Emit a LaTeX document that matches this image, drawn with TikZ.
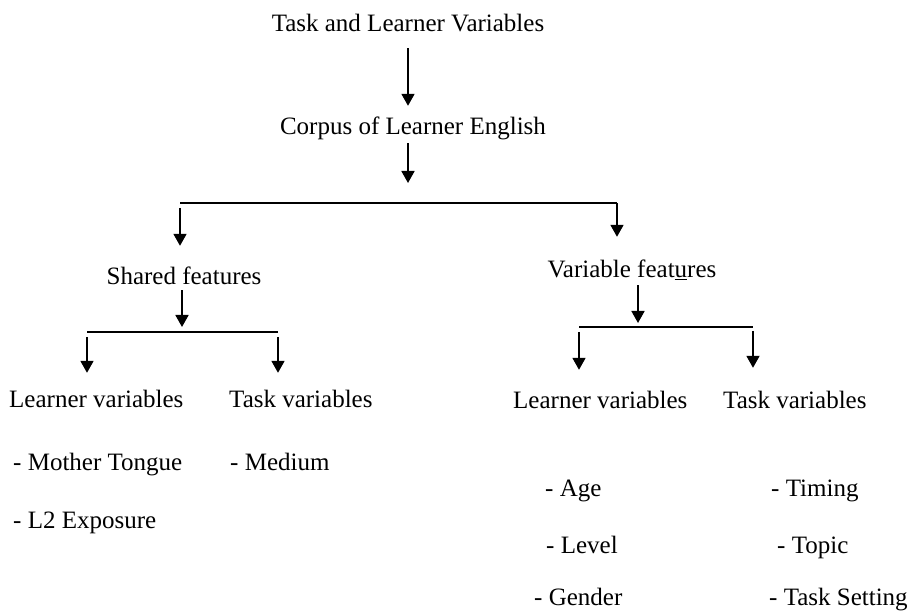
\documentclass[tikz,border=0pt]{standalone}
\usepackage{fontspec}
\setmainfont{Liberation Serif}
\usetikzlibrary{arrows.meta}

\tikzstyle{heading}=[inner sep=0pt,anchor=base,text height=17pt,text depth=5pt,font=\fontsize{25}{30}\selectfont]
\tikzstyle{entry}=[heading,anchor=base west]
\tikzstyle{arrowdown}=[line width=1.8pt,-{Triangle[width=13pt,length=12pt]}]
\tikzstyle{bar}=[line width=1.8pt]

\begin{document}
\begin{tikzpicture}[x=1pt,y=-1pt]
      \useasboundingbox (0,0) rectangle (911,612);
      % top of the tree
      \node [heading] (top) at (408,32) {Task and Learner Variables};
      \node [heading] (corpus) at (413,135) {Corpus of Learner English};
      \node [heading] (shared) at (184,285) {Shared features};
      \node [heading] (variable) at (632,278) {Variable feat\underline{u}res};
      % second level
      \node [entry] (slearner) at (9,408) {Learner variables};
      \node [entry] (stask) at (229,408) {Task variables};
      \node [entry] (vlearner) at (513,409) {Learner variables};
      \node [entry] (vtask) at (723,409) {Task variables};
      % lists
      \node [entry] (mother) at (13,470) {- Mother Tongue};
      \node [entry] (exposure) at (13,528) {- L2 Exposure};
      \node [entry] (medium) at (230,470) {- Medium};
      \node [entry] (age) at (545,496) {- Age};
      \node [entry] (level) at (546,553) {- Level};
      \node [entry] (gender) at (534,605) {- Gender};
      \node [entry] (timing) at (771,496) {- Timing};
      \node [entry] (topic) at (777,553) {- Topic};
      \node [entry] (setting) at (769,605) {- Task Setting};
      % bars
      \coordinate (cbarL) at (180,203);
      \coordinate (cbarR) at (617,203);
      \coordinate (cjoin) at (408,203);
      \coordinate (sbarL) at (87,332);
      \coordinate (sbarR) at (278,332);
      \coordinate (sjoin) at (182,332);
      \coordinate (vbarL) at (579,327);
      \coordinate (vbarR) at (753,327);
      \coordinate (vjoin) at (638,327);
      \draw [bar] (cbarL) -- (cbarR);
      \draw [bar] (sbarL) -- (sbarR);
      \draw [bar] (vbarL) -- (vbarR);
      % arrows
      \draw [arrowdown,shorten <=11pt,shorten >=12pt] (top.south) -- (top.south |- corpus.north);
      \draw [arrowdown,shorten <=3pt,shorten >=20pt] (corpus.south -| cjoin) -- (cjoin);
      \draw [arrowdown,shorten <=5pt,shorten >=22pt] (cbarL) -- (cbarL |- shared.north);
      \draw [arrowdown,shorten >=24pt] (cbarR) -- (cbarR |- variable.north);
      \draw [arrowdown,shorten >=5pt] (shared.south -| sjoin) -- (sjoin);
      \draw [arrowdown,shorten <=5pt,shorten >=18pt] (sbarL) -- (sbarL |- slearner.north);
      \draw [arrowdown,shorten <=5pt,shorten >=18pt] (sbarR) -- (sbarR |- stask.north);
      \draw [arrowdown,shorten <=2pt,shorten >=4pt] (variable.south -| vjoin) -- (vjoin);
      \draw [arrowdown,shorten <=5pt,shorten >=22pt] (vbarL) -- (vbarL |- vlearner.north);
      \draw [arrowdown,shorten <=4pt,shorten >=24pt] (vbarR) -- (vbarR |- vtask.north);
    \end{tikzpicture}
\end{document}
